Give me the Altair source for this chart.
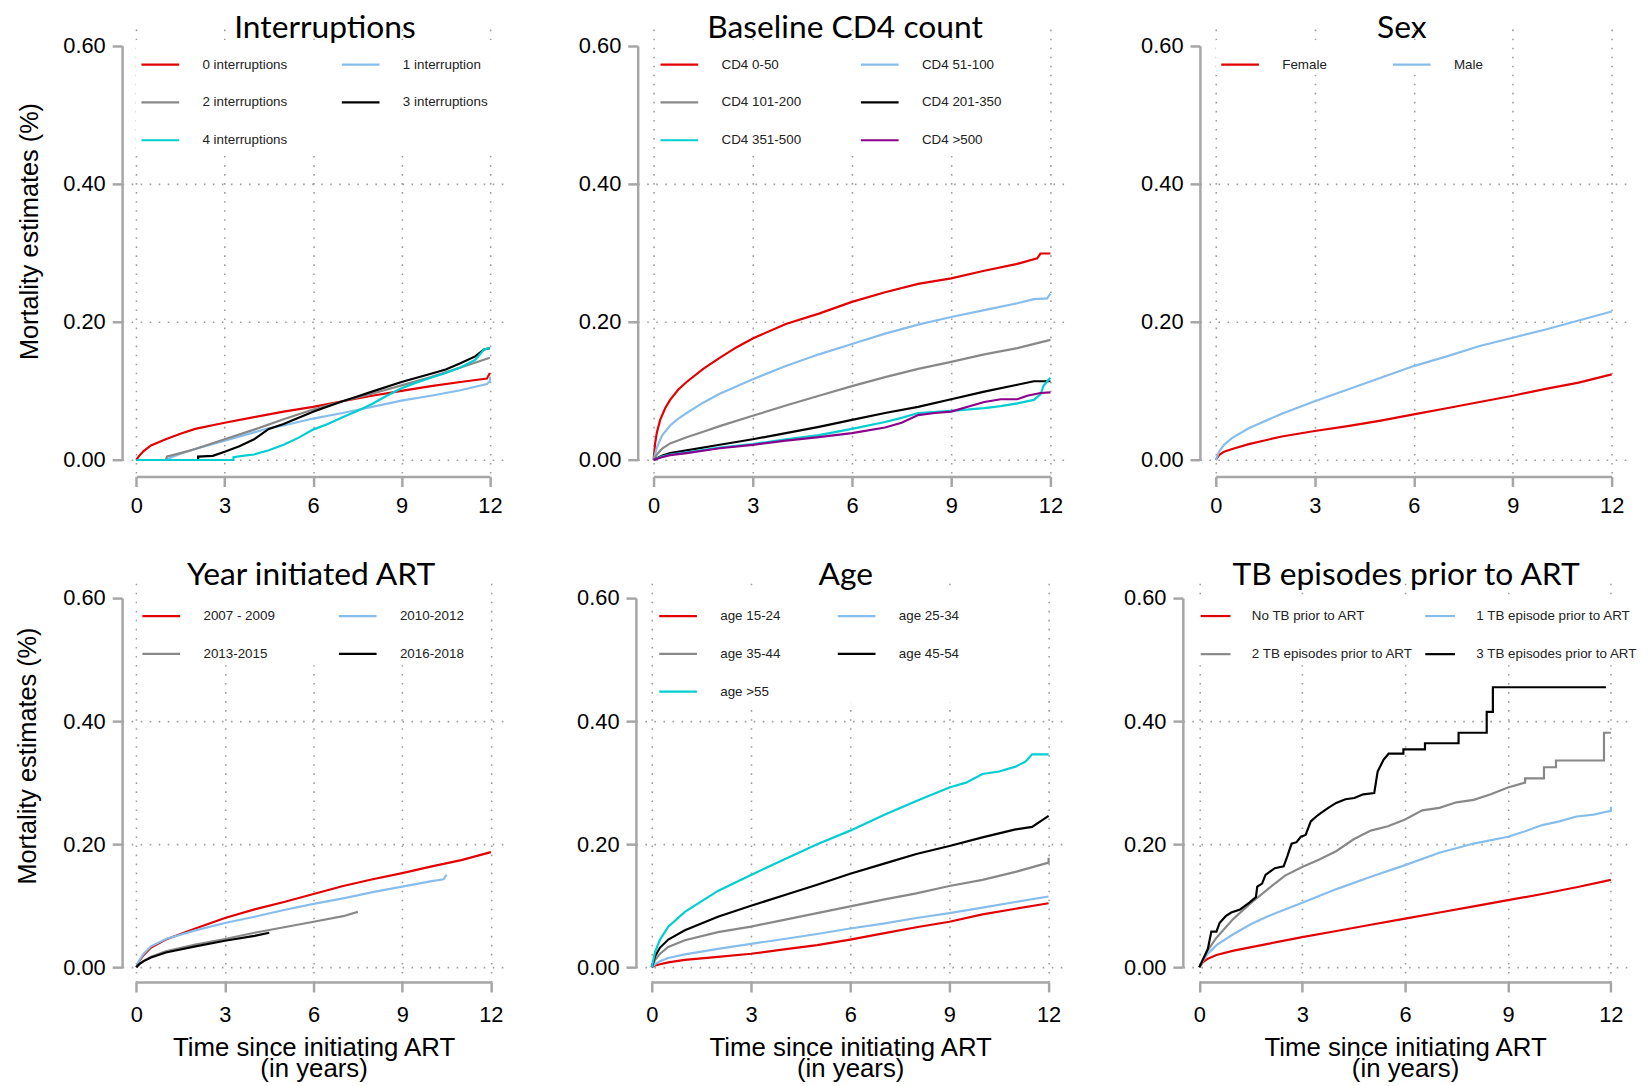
import altair as alt
import pandas as pd

# ---------------- scales / ticks ----------------
X_DOMAIN = [-0.48, 12.48]
Y_DOMAIN = [-0.024, 0.624]
X_TICKS = [0, 3, 6, 9, 12]
Y_TICKS = [0.0, 0.2, 0.4, 0.6]
Y_NO_GRID_ABOVE = 0.5   # R draws no dotted line at 0.60

RED = "#E20000"
BLUE = "#87BDEB"
GRAY = "#888888"
BLACK = "#000000"
CYAN = "#00CED1"
PURPLE = "#8B008B"

# ---------------- Panel 1: Interruptions ----------------
INT_LABELS = ["0 interruptions", "1 interruption", "2 interruptions", "3 interruptions", "4 interruptions"]
INT0_T = [0, 0.1, 0.25, 0.5, 1, 1.5, 2, 3, 4, 5, 6, 7, 8, 9, 10, 11, 11.9, 12]
INT0_V = [0, 0.006, 0.013, 0.021, 0.030, 0.038, 0.045, 0.054, 0.062, 0.070, 0.077, 0.085, 0.093, 0.100, 0.107, 0.113, 0.118, 0.126]
INT1_T = [0, 1.0, 1.2, 1.5, 2, 3, 4, 4.5, 5, 6, 7, 8, 9, 10, 11, 11.9, 12, 12]
INT1_V = [0, 0, 0.004, 0.009, 0.016, 0.028, 0.040, 0.046, 0.050, 0.060, 0.068, 0.077, 0.086, 0.093, 0.101, 0.110, 0.114, 0.121]
INT2_T = [0, 1.0, 1.05, 1.5, 2, 3, 4, 5, 6, 7, 8, 9, 10, 11, 12]
INT2_V = [0, 0, 0.005, 0.010, 0.016, 0.030, 0.044, 0.059, 0.073, 0.085, 0.096, 0.108, 0.120, 0.134, 0.148]
INT3_T = [0, 2.1, 2.1, 2.6, 3, 3.5, 4, 4.5, 5, 6, 7, 7.5, 8, 9, 10, 10.5, 11, 11.5, 11.8, 12]
INT3_V = [0, 0, 0.005, 0.006, 0.012, 0.020, 0.030, 0.045, 0.052, 0.070, 0.085, 0.092, 0.099, 0.113, 0.125, 0.131, 0.140, 0.150, 0.160, 0.162]
INT4_T = [0, 3.3, 3.3, 3.6, 4, 4.5, 5, 5.5, 6, 6.5, 7, 7.5, 8, 8.5, 9, 9.5, 10, 10.5, 11, 11.5, 11.8, 12]
INT4_V = [0, 0, 0.004, 0.006, 0.008, 0.014, 0.022, 0.032, 0.044, 0.052, 0.062, 0.071, 0.081, 0.093, 0.104, 0.112, 0.119, 0.126, 0.134, 0.145, 0.160, 0.162]

# ---------------- Panel 2: Baseline CD4 count ----------------
CD4_LABELS = ["CD4 0-50", "CD4 51-100", "CD4 101-200", "CD4 201-350", "CD4 351-500", "CD4 >500"]
CD0_T = [0, 0.05, 0.1, 0.2, 0.35, 0.5, 0.75, 1, 1.5, 2, 2.5, 3, 4, 5, 6, 7, 8, 9, 10, 11, 11.6, 11.7, 12]
CD0_V = [0, 0.025, 0.040, 0.058, 0.075, 0.087, 0.102, 0.113, 0.132, 0.148, 0.163, 0.176, 0.197, 0.212, 0.229, 0.243, 0.255, 0.263, 0.274, 0.284, 0.292, 0.299, 0.299]
CD1_T = [0, 0.1, 0.25, 0.5, 0.75, 1, 1.5, 2, 3, 4, 5, 6, 7, 8, 9, 10, 11, 11.5, 11.9, 12]
CD1_V = [0, 0.018, 0.035, 0.050, 0.060, 0.068, 0.083, 0.096, 0.117, 0.136, 0.153, 0.168, 0.183, 0.196, 0.207, 0.217, 0.227, 0.233, 0.234, 0.241]
CD2_T = [0, 0.1, 0.25, 0.5, 1, 1.5, 2, 3, 4, 5, 6, 7, 8, 9, 10, 11, 12]
CD2_V = [0, 0.008, 0.016, 0.024, 0.033, 0.041, 0.049, 0.064, 0.079, 0.093, 0.107, 0.120, 0.132, 0.142, 0.153, 0.162, 0.174]
CD3_T = [0, 0.25, 0.5, 1, 2, 3, 4, 5, 6, 7, 8, 9, 10, 11, 11.5, 12]
CD3_V = [0, 0.006, 0.010, 0.014, 0.022, 0.030, 0.039, 0.048, 0.058, 0.068, 0.077, 0.088, 0.099, 0.109, 0.114, 0.114]
CD4_T = [0, 0.25, 0.5, 1, 2, 3, 4, 5, 6, 7, 7.5, 8, 9, 10, 10.5, 11, 11.5, 11.7, 11.8, 12]
CD4_V = [0, 0.005, 0.008, 0.011, 0.018, 0.023, 0.030, 0.036, 0.045, 0.055, 0.061, 0.068, 0.071, 0.075, 0.078, 0.082, 0.087, 0.095, 0.108, 0.119]
CD5_T = [0, 0.25, 0.5, 1, 2, 3, 4, 5, 6, 7, 7.5, 8, 8.5, 9, 9.5, 10, 10.5, 11, 11.3, 11.7, 12]
CD5_V = [0, 0.004, 0.007, 0.010, 0.017, 0.022, 0.028, 0.033, 0.039, 0.047, 0.054, 0.065, 0.068, 0.070, 0.077, 0.084, 0.088, 0.088, 0.093, 0.097, 0.098]

# ---------------- Panel 3: Sex ----------------
SEX_LABELS = ["Female", "Male"]
SEX_T = [0, 0.1, 0.25, 0.5, 1, 2, 3, 4, 5, 6, 7, 8, 9, 10, 11, 12]
FEMALE_V = [0, 0.007, 0.012, 0.016, 0.023, 0.034, 0.042, 0.049, 0.057, 0.066, 0.075, 0.084, 0.093, 0.103, 0.112, 0.124]
MALE_V = [0, 0.012, 0.022, 0.032, 0.046, 0.067, 0.085, 0.102, 0.119, 0.136, 0.150, 0.165, 0.177, 0.189, 0.202, 0.215]

# ---------------- Panel 4: Year initiated ART ----------------
YEAR_LABELS = ["2007 - 2009", "2010-2012", "2013-2015", "2016-2018"]
YR1_T = [0, 0.1, 0.25, 0.5, 1, 2, 3, 4, 5, 6, 7, 8, 9, 10, 11, 12]
YR1_V = [0, 0.010, 0.020, 0.032, 0.045, 0.063, 0.080, 0.094, 0.106, 0.119, 0.132, 0.143, 0.153, 0.164, 0.174, 0.187]
YR2_T = [0, 0.1, 0.25, 0.5, 1, 2, 3, 4, 5, 6, 7, 8, 9, 10, 10.4, 10.5]
YR2_V = [0, 0.011, 0.022, 0.034, 0.046, 0.060, 0.072, 0.082, 0.093, 0.103, 0.112, 0.122, 0.131, 0.140, 0.143, 0.150]
YR3_T = [0, 0.1, 0.25, 0.5, 1, 2, 3, 4, 5, 6, 7, 7.5]
YR3_V = [0, 0.005, 0.010, 0.017, 0.026, 0.037, 0.046, 0.056, 0.065, 0.074, 0.083, 0.090]
YR4_T = [0, 0.1, 0.25, 0.5, 1, 2, 3, 4, 4.5]
YR4_V = [0, 0.005, 0.010, 0.016, 0.024, 0.034, 0.043, 0.051, 0.056]

# ---------------- Panel 5: Age ----------------
AGE_LABELS = ["age 15-24", "age 25-34", "age 35-44", "age 45-54", "age >55"]
AGE_T = [0, 0.1, 0.25, 0.5, 1, 2, 3, 4, 5, 6, 7, 8, 9, 10, 11, 12]
AGE1_V = [0, 0.003, 0.005, 0.008, 0.012, 0.017, 0.022, 0.029, 0.036, 0.045, 0.055, 0.065, 0.074, 0.086, 0.095, 0.104]
AGE2_V = [0, 0.005, 0.010, 0.015, 0.021, 0.030, 0.038, 0.046, 0.054, 0.063, 0.071, 0.080, 0.088, 0.097, 0.106, 0.115]
AGE3_T = [0, 0.1, 0.25, 0.5, 1, 2, 3, 4, 5, 6, 7, 8, 9, 10, 11, 12, 12]
AGE3_V = [0, 0.012, 0.022, 0.033, 0.044, 0.057, 0.066, 0.077, 0.088, 0.099, 0.110, 0.120, 0.132, 0.142, 0.155, 0.170, 0.178]
AGE4_T = [0, 0.1, 0.25, 0.5, 1, 2, 3, 4, 5, 6, 7, 8, 9, 10, 11, 11.5, 12]
AGE4_V = [0, 0.018, 0.032, 0.045, 0.060, 0.082, 0.100, 0.117, 0.134, 0.152, 0.168, 0.184, 0.197, 0.211, 0.224, 0.228, 0.246]
AGE5_T = [0, 0.1, 0.25, 0.5, 1, 2, 3, 4, 5, 6, 7, 8, 9, 9.5, 10, 10.5, 11, 11.3, 11.5, 12]
AGE5_V = [0, 0.025, 0.045, 0.066, 0.090, 0.124, 0.150, 0.175, 0.200, 0.222, 0.247, 0.270, 0.292, 0.300, 0.314, 0.318, 0.326, 0.334, 0.346, 0.346]

# ---------------- Panel 6: TB episodes prior to ART ----------------
TB_LABELS = ["No TB prior to ART", "1 TB episode prior to ART", "2 TB episodes prior to ART", "3 TB episodes prior to ART"]
TB0_T = [0, 0.1, 0.25, 0.5, 1, 2, 3, 4, 5, 6, 7, 8, 9, 10, 11, 12]
TB0_V = [0, 0.008, 0.014, 0.020, 0.027, 0.038, 0.049, 0.059, 0.069, 0.079, 0.089, 0.099, 0.109, 0.119, 0.130, 0.142]
TB1_T = [0, 0.1, 0.25, 0.5, 1, 1.5, 2, 3, 4, 5, 6, 7, 8, 9, 9.5, 10, 10.5, 11, 11.5, 11.9, 12, 12]
TB1_V = [0, 0.010, 0.022, 0.036, 0.054, 0.070, 0.083, 0.105, 0.127, 0.147, 0.166, 0.186, 0.201, 0.212, 0.221, 0.231, 0.237, 0.245, 0.248, 0.253, 0.254, 0.261]
TB2_T = [0, 0.1, 0.25, 0.5, 1, 1.5, 2, 2.5, 3, 3.5, 4, 4.5, 5, 5.5, 6, 6.5, 7, 7.5, 8, 8.5, 9, 9.5, 9.5, 10.05, 10.05, 10.4, 10.4, 11.8, 11.8, 12]
TB2_V = [0, 0.012, 0.028, 0.048, 0.079, 0.104, 0.127, 0.149, 0.163, 0.175, 0.189, 0.208, 0.222, 0.229, 0.240, 0.255, 0.259, 0.268, 0.272, 0.281, 0.292, 0.300, 0.307, 0.307, 0.325, 0.325, 0.336, 0.336, 0.381, 0.381]
TB3_T = [0, 0.1, 0.25, 0.35, 0.5, 0.59, 0.77, 0.93, 1.19, 1.46, 1.65, 1.69, 1.83, 1.93, 2.2, 2.46, 2.57, 2.69, 2.83, 2.96, 3.1, 3.25, 3.41, 3.55, 3.76, 3.99, 4.26, 4.52, 4.78, 5.1, 5.2, 5.37, 5.52, 5.95, 5.95, 6.58, 6.58, 7.56, 7.56, 8.38, 8.38, 8.56, 8.56, 11.86]
TB3_V = [0, 0.012, 0.030, 0.058, 0.058, 0.072, 0.083, 0.089, 0.094, 0.105, 0.114, 0.131, 0.136, 0.150, 0.161, 0.164, 0.181, 0.201, 0.203, 0.212, 0.215, 0.237, 0.245, 0.251, 0.259, 0.267, 0.273, 0.275, 0.281, 0.283, 0.318, 0.337, 0.347, 0.347, 0.354, 0.354, 0.364, 0.364, 0.381, 0.381, 0.415, 0.415, 0.455, 0.455]

# ---------------- styling ----------------
FONT = "Liberation Sans"
TITLE_FONT = "Lato"
AXIS_GRAY = "#A6A6A6"
GRID_GRAY = "#9E9E9E"


def frame(series):
    rows = []
    for name, ts, vs in series:
        for i, (t, v) in enumerate(zip(ts, vs)):
            rows.append({"series": name, "t": t, "v": v, "i": i})
    return pd.DataFrame(rows)


def panel(title, series, labels, colors, width, height, leg, title_dx, title_dy,
          ytitle_shift=None, ytitle_x=-93.5, xtitle=False, xlabel_pad=9):
    xs = alt.Scale(domain=X_DOMAIN, nice=False, zero=False)
    ys = alt.Scale(domain=Y_DOMAIN, nice=False, zero=False)

    # R style: axis line only from first to last tick
    xpx = width / (X_DOMAIN[1] - X_DOMAIN[0])
    ypx = height / (Y_DOMAIN[1] - Y_DOMAIN[0])
    x_dash = [0, -X_DOMAIN[0] * xpx, 12 * xpx, 2000]
    y_dash = [0, -Y_DOMAIN[0] * ypx, 0.6 * ypx, 2000]

    common = dict(domain=True, domainColor=AXIS_GRAY, domainWidth=2.5, domainCap="butt",
                  grid=True, gridColor=GRID_GRAY, gridWidth=1.6, gridDash=[1.6, 7.5],
                  ticks=True, tickSize=10, tickWidth=2.5, tickColor=AXIS_GRAY,
                  labelFont=FONT, labelFontSize=22, labelColor="black",
                  labelFlush=False, labelOverlap=False)

    if xtitle:
        xaxis = alt.Axis(values=X_TICKS, domainDash=x_dash, labelPadding=xlabel_pad,
                         title=["Time since initiating ART", "(in years)"],
                         titleFont=FONT, titleFontSize=26, titleFontWeight="normal", titleColor="black",
                         titleLineHeight=21, titleBaseline="top", titleAlign="center",
                         titleX=width / 2, titleY=53, **common)
    else:
        xaxis = alt.Axis(values=X_TICKS, domainDash=x_dash, labelPadding=xlabel_pad, title=None, **common)

    y_grid_op = {"condition": {"test": f"datum.value > {Y_NO_GRID_ABOVE}", "value": 0}, "value": 1}
    if ytitle_shift is not None:
        yaxis = alt.Axis(values=Y_TICKS, format=".2f", domainDash=y_dash, gridOpacity=y_grid_op,
                         labelPadding=7,
                         title="Mortality estimates (%)", titleFont=FONT, titleFontSize=25.5,
                         titleFontWeight="normal", titleColor="black", titleAngle=270,
                         titleBaseline="middle", titleAlign="center", titleX=ytitle_x,
                         titleY=height / 2 + ytitle_shift, **common)
    else:
        yaxis = alt.Axis(values=Y_TICKS, format=".2f", domainDash=y_dash, gridOpacity=y_grid_op,
                         labelPadding=7, title=None, **common)

    legend = alt.Legend(
        title=None, orient="none", legendX=leg["x"], legendY=leg["y"], columns=2, direction="horizontal",
        symbolType="stroke", symbolSize=leg["size"], symbolStrokeWidth=2.2,
        labelOffset=leg["off"], columnPadding=leg["cp"], rowPadding=leg["rp"],
        labelFont=FONT, labelFontSize=13.5, labelColor="#222222", labelLimit=400,
        fillColor="white", padding=4,
    )

    return alt.Chart(frame(series)).mark_line(strokeWidth=2.2).encode(
        x=alt.X("t:Q", scale=xs, axis=xaxis),
        y=alt.Y("v:Q", scale=ys, axis=yaxis),
        color=alt.Color("series:N", scale=alt.Scale(domain=labels, range=colors), legend=legend),
        order=alt.Order("i:Q"),
    ).properties(
        width=width, height=height,
        title=alt.TitleParams(title, font=TITLE_FONT, fontSize=32, fontWeight="normal", color="black",
                              anchor="middle", frame="group", baseline="alphabetic", offset=0,
                              dx=title_dx, dy=title_dy),
    )


TOP_H = 451
BOT_H = 402

p1 = panel("Interruptions",
           [(INT_LABELS[0], INT0_T, INT0_V), (INT_LABELS[1], INT1_T, INT1_V), (INT_LABELS[2], INT2_T, INT2_V),
            (INT_LABELS[3], INT3_T, INT3_V), (INT_LABELS[4], INT4_T, INT4_V)],
           INT_LABELS, [RED, BLUE, GRAY, BLACK, CYAN], 385, TOP_H,
           dict(x=14, y=11.3, size=1444, off=22, cp=50, rp=11.1), 12, 41, ytitle_shift=-22)
p2 = panel("Baseline CD4 count",
           [(CD4_LABELS[0], CD0_T, CD0_V), (CD4_LABELS[1], CD1_T, CD1_V), (CD4_LABELS[2], CD2_T, CD2_V),
            (CD4_LABELS[3], CD3_T, CD3_V), (CD4_LABELS[4], CD4_T, CD4_V), (CD4_LABELS[5], CD5_T, CD5_V)],
           CD4_LABELS, [RED, BLUE, GRAY, BLACK, CYAN, PURPLE], 432, TOP_H,
           dict(x=17.5, y=11.3, size=1444, off=22, cp=55, rp=11.1), -7, 41)
p3 = panel("Sex",
           [(SEX_LABELS[0], SEX_T, FEMALE_V), (SEX_LABELS[1], SEX_T, MALE_V)],
           SEX_LABELS, [RED, BLUE], 431, TOP_H,
           dict(x=16, y=11.3, size=1444, off=22, cp=61, rp=11.1), -12, 41)
p4 = panel("Year initiated ART",
           [(YEAR_LABELS[0], YR1_T, YR1_V), (YEAR_LABELS[1], YR2_T, YR2_V), (YEAR_LABELS[2], YR3_T, YR3_V),
            (YEAR_LABELS[3], YR4_T, YR4_V)],
           YEAR_LABELS, [RED, BLUE, GRAY, BLACK], 386, BOT_H,
           dict(x=15, y=8.6, size=1444, off=22, cp=59, rp=11.1), -2.5, 33.7,
           ytitle_shift=-27.3, ytitle_x=-95, xtitle=True, xlabel_pad=13)
p5 = panel("Age",
           [(AGE_LABELS[0], AGE_T, AGE1_V), (AGE_LABELS[1], AGE_T, AGE2_V), (AGE_LABELS[2], AGE3_T, AGE3_V),
            (AGE_LABELS[3], AGE4_T, AGE4_V), (AGE_LABELS[4], AGE5_T, AGE5_V)],
           AGE_LABELS, [RED, BLUE, GRAY, BLACK, CYAN], 432, BOT_H,
           dict(x=18, y=8.6, size=1444, off=22, cp=53, rp=11.1), -4.5, 33.7, xtitle=True, xlabel_pad=13)
p6 = panel("TB episodes prior to ART",
           [(TB_LABELS[0], TB0_T, TB0_V), (TB_LABELS[1], TB1_T, TB1_V), (TB_LABELS[2], TB2_T, TB2_V),
            (TB_LABELS[3], TB3_T, TB3_V)],
           TB_LABELS, [RED, BLUE, GRAY, BLACK], 448, BOT_H,
           dict(x=12.5, y=12.6, size=900, off=20, cp=7.3, rp=15.4), 1, 33.7, xtitle=True, xlabel_pad=13)

top = alt.hconcat(p1, p2, p3, spacing=74.7).resolve_scale(color="independent")
bot_inner = alt.hconcat(p4, p5, spacing=71.9).resolve_scale(color="independent")
bot = alt.hconcat(bot_inner, p6, spacing=59.2).resolve_scale(color="independent")

chart = alt.vconcat(top, bot, spacing=42.5).resolve_scale(color="independent").properties(
    padding={"left": 8, "top": 0, "right": 0, "bottom": 0},
    background="white",
).configure_view(strokeWidth=0)

chart.save("out.html", embed_options={"renderer": "svg", "actions": False})
